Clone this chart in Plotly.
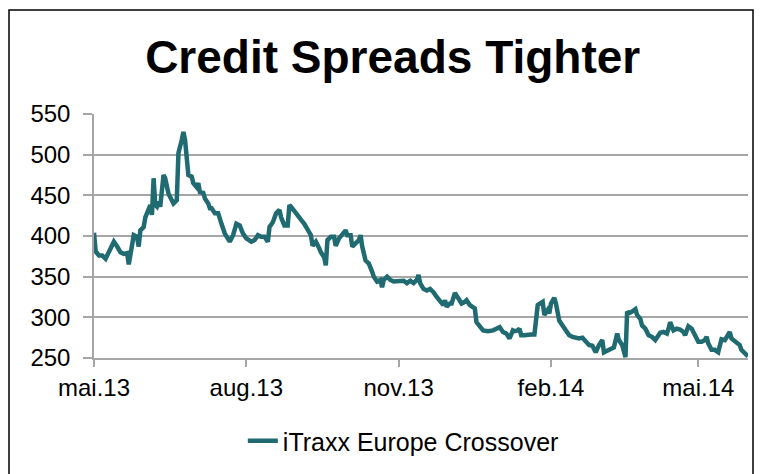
import pandas as pd
import plotly.graph_objects as go

# Observation dates given as day offsets from the first observation (1 May 2013)
start_date = "2013-05-01"
day_offset = [0, 1, 3, 5, 7, 9, 12, 14, 16, 18, 20, 21, 23, 24, 26, 27, 28, 30, 31, 33,
              34, 35, 36, 37, 38, 39, 40, 42, 43, 45, 47, 48, 50, 51, 53, 54, 55, 56, 57, 59,
              60, 62, 63, 64, 66, 67, 69, 70, 71, 73, 75, 77, 79, 82, 84, 86, 88, 90, 92, 95,
              97, 99, 101, 103, 105, 106, 108, 110, 112, 113, 115, 117, 118, 119, 121, 123, 125, 127, 129, 131,
              132, 134, 136, 137, 139, 140, 141, 143, 145, 146, 148, 150, 152, 153, 155, 156, 158, 160, 161, 162,
              164, 166, 168, 169, 171, 173, 174, 175, 177, 179, 181, 183, 185, 187, 189, 191, 193, 195, 196, 197,
              199, 201, 203, 205, 207, 209, 211, 212, 213, 215, 216, 218, 220, 222, 224, 225, 227, 229, 230, 231,
              233, 235, 238, 241, 244, 245, 247, 249, 251, 253, 254, 256, 257, 258, 260, 262, 264, 266, 267, 268,
              271, 272, 274, 275, 276, 278, 279, 281, 283, 285, 287, 289, 291, 293, 295, 297, 299, 301, 303, 305,
              307, 308, 310, 312, 314, 316, 317, 319, 321, 322, 323, 325, 327, 328, 330, 331, 333, 335, 337, 339,
              341, 342, 344, 346, 347, 348, 350, 352, 354, 356, 357, 359, 361, 363, 365, 367, 369, 370, 371, 373,
              375, 377, 379, 381, 382, 384, 385, 388, 390, 391, 393, 395]

spread = [404, 381, 376, 376, 372, 380, 393, 387, 380, 378, 379, 365, 395, 401, 399, 387, 407, 411, 423, 434,
          438, 426, 471, 438, 436, 442, 436, 475, 471, 452, 442, 440, 444, 502, 518, 528, 518, 491, 475, 473,
          465, 460, 465, 454, 453, 446, 440, 434, 434, 428, 428, 415, 403, 393, 401, 415, 413, 403, 397, 393,
          395, 401, 399, 399, 393, 411, 417, 428, 432, 423, 413, 413, 438, 436, 430, 426, 420, 415, 407, 401,
          388, 393, 385, 380, 374, 364, 395, 399, 399, 388, 397, 403, 407, 401, 401, 387, 391, 395, 401, 387,
          370, 366, 356, 350, 344, 346, 337, 346, 350, 346, 344, 344, 344, 345, 342, 345, 342, 346, 352, 342,
          335, 333, 335, 331, 325, 319, 315, 321, 313, 317, 317, 330, 323, 317, 319, 321, 315, 313, 311, 294,
          288, 284, 283, 284, 287, 288, 282, 280, 274, 284, 283, 284, 286, 278, 278, 279, 279, 279, 296, 315,
          319, 303, 309, 305, 317, 324, 317, 296, 290, 284, 278, 276, 275, 274, 275, 270, 266, 265, 257, 266,
          272, 257, 259, 260, 263, 280, 272, 266, 251, 307, 305, 307, 310, 303, 298, 290, 286, 278, 276, 272,
          278, 281, 282, 280, 286, 294, 284, 286, 285, 282, 278, 289, 286, 278, 270, 270, 272, 276, 268, 260,
          260, 257, 273, 272, 276, 282, 274, 269, 266, 260, 255, 252]

series_name = "iTraxx Europe Crossover"
title_text = "Credit Spreads Tighter"
x_tick_dates = ["2013-05-01", "2013-08-01", "2013-11-01", "2014-02-01", "2014-05-01"]
x_tick_labels = ["mai.13", "aug.13", "nov.13", "feb.14", "mai.14"]
y_ticks = [250, 300, 350, 400, 450, 500, 550]

dates = pd.Timestamp(start_date) + pd.to_timedelta(day_offset, unit="D")

FONT = "Liberation Sans, Arial, sans-serif"
LINE_COLOR = "#206B72"
GRID = "#A6A6A6"

fig = go.Figure()
fig.add_trace(go.Scatter(
    x=dates, y=spread, mode="lines", name=series_name,
    line=dict(color=LINE_COLOR, width=4.5),
))

fig.update_layout(
    width=761, height=474,
    margin=dict(l=94, r=13, t=114, b=116),
    paper_bgcolor="white", plot_bgcolor="white",
    font=dict(family=FONT, color="#000000"),
    title=dict(text="<b>" + title_text + "</b>", x=0.516, xref="container",
               y=1 - 57 / 474, yref="container", yanchor="middle", xanchor="center",
               font=dict(family=FONT, size=46, color="#000000")),
    showlegend=True,
    legend=dict(orientation="h", xref="container", yref="container",
                x=0.53, y=1 - 441 / 474, xanchor="center", yanchor="middle",
                font=dict(family=FONT, size=25, color="#000000"),
                bgcolor="rgba(0,0,0,0)"),
)

fig.update_xaxes(
    type="date", range=[start_date, "2014-05-31"],
    tickmode="array", tickvals=x_tick_dates, ticktext=x_tick_labels,
    ticks="outside", ticklen=7, tickwidth=1.5, tickcolor=GRID,
    showline=True, linecolor=GRID, linewidth=1.5,
    showgrid=False, zeroline=False,
    tickfont=dict(family=FONT, size=24, color="#000000"),
)
fig.update_yaxes(
    range=[250, 550], tickmode="array", tickvals=y_ticks,
    ticks="outside", ticklen=9, tickwidth=1.5, tickcolor=GRID,
    showline=True, linecolor=GRID, linewidth=1.5,
    showgrid=True, gridcolor=GRID, gridwidth=1.5, zeroline=False,
    tickfont=dict(family=FONT, size=24, color="#000000"),
    ticklabelstandoff=8,
)

# Outer chart-area border
fig.add_shape(type="rect", xref="paper", yref="paper",
              x0=-85 / 654, x1=659 / 654, y0=-0.6, y1=348 / 244,
              line=dict(color="#000000", width=1.5), fillcolor="rgba(0,0,0,0)", layer="below")

fig.write_html("out.html")
